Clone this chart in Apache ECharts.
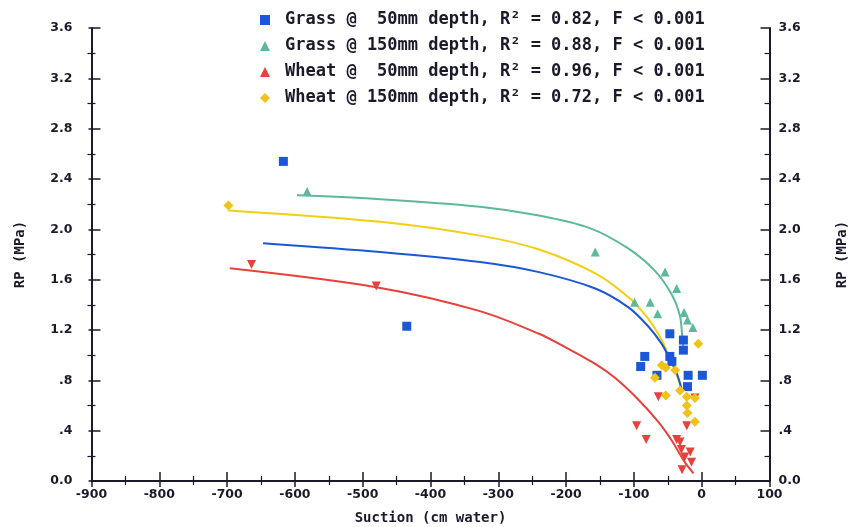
<!DOCTYPE html>
<html>
<head>
<meta charset="utf-8">
<script src="https://cdn.jsdelivr.net/npm/echarts@6/dist/echarts.min.js"></script>
<style>html,body{margin:0;padding:0;background:#fff;}#c{width:851px;height:527px;}</style>
</head>
<body>
<div id="c"></div>
<script>
// ---- data ----
var legendNames = [
  'Grass @  50mm depth, R\u00B2 = 0.82, F < 0.001',
  'Grass @ 150mm depth, R\u00B2 = 0.88, F < 0.001',
  'Wheat @  50mm depth, R\u00B2 = 0.96, F < 0.001',
  'Wheat @ 150mm depth, R\u00B2 = 0.72, F < 0.001'
];
var xTickLabels = ['-900','-800','-700','-600','-500','-400','-300','-200','-100','0','100'];
var yTickLabels = ['0.0','.4','.8','1.2','1.6','2.0','2.4','2.8','3.2','3.6'];

var grass50X = [-617, -435, -47, -27, -27, -84, -90, -47, -44, -66, -20, 1, -21];
var grass50Y = [2.54, 1.23, 1.17, 1.12, 1.04, 0.99, 0.91, 0.99, 0.95, 0.84, 0.84, 0.84, 0.75];

var grass150X = [-582, -157, -54, -37, -99, -76, -65, -26, -21, -13];
var grass150Y = [2.30, 1.82, 1.66, 1.53, 1.42, 1.42, 1.33, 1.34, 1.28, 1.22];

var wheat50X = [-664, -480, -64, -10, -96, -82, -22, -37, -32, -30, -17, -25, -15, -29];
var wheat50Y = [1.72, 1.55, 0.67, 0.66, 0.44, 0.33, 0.44, 0.33, 0.31, 0.25, 0.23, 0.19, 0.15, 0.09];

var wheat150X = [-698, -5, -59, -53, -69, -39, -53, -32, -22, -10, -22, -21, -10];
var wheat150Y = [2.19, 1.09, 0.92, 0.90, 0.82, 0.88, 0.68, 0.72, 0.67, 0.66, 0.60, 0.54, 0.47];

// fitted curves
var grass50FitX = [-647, -474, -327, -240, -157, -108, -79, -59, -47, -37, -29];
var grass50FitY = [1.89, 1.82, 1.74, 1.66, 1.53, 1.38, 1.23, 1.09, 0.97, 0.86, 0.72];

var grass150FitX = [-597, -474, -327, -240, -165, -109, -69, -44, -32, -29, -27];
var grass150FitY = [2.27, 2.24, 2.18, 2.11, 2.01, 1.85, 1.67, 1.48, 1.31, 1.17, 1.05];

var wheat50FitX = [-696, -480, -327, -240, -200, -157, -128, -94, -64, -44, -25, -12];
var wheat50FitY = [1.69, 1.54, 1.35, 1.17, 1.06, 0.93, 0.82, 0.65, 0.47, 0.32, 0.15, 0.06];

var wheat150FitX = [-698, -474, -327, -240, -157, -108, -79, -59, -49, -38, -29];
var wheat150FitY = [2.15, 2.06, 1.95, 1.84, 1.65, 1.46, 1.29, 1.12, 1.00, 0.86, 0.72];

// ---- build ----
function pairs(xs, ys){ var o=[]; for(var i=0;i<xs.length;i++) o.push([xs[i], ys[i]]); return o; }

var BLUE = '#1b57d8', GREEN = '#5db89c', RED = '#e8403a', YELLOW = '#f3cf12', YDIA = '#f0c21a';
var MONO = '"DejaVu Sans Mono", "Liberation Mono", monospace';
var SANS = '"DejaVu Sans", "Liberation Sans", sans-serif';
var INK = '#1a1a2a';

var chart = echarts.init(document.getElementById('c'), null, {renderer:'canvas'});

function yFmt(v){ var i = Math.round(v/0.4); return yTickLabels[i] !== undefined ? yTickLabels[i] : ''; }
function xFmt(v){ var i = Math.round((v+900)/100); return xTickLabels[i] !== undefined ? xTickLabels[i] : ''; }

var axisLineStyle = {color: INK, width: 2};

function fitSeries(xs, ys, color){
  return {type:'line', data: pairs(xs, ys), smooth: 0.3, showSymbol:false, symbol:'none',
    lineStyle:{color: color, width: 2}, z: 2, silent: true, xAxisIndex:0, yAxisIndex:0};
}

var option = {
  backgroundColor: '#fff',
  animation: false,
  grid: {left: 91.5, right: 81.5, top: 28, bottom: 46, containLabel: false, outerBoundsMode: 'none'},
  legend: {
    data: legendNames,
    orient: 'vertical',
    left: 255, top: 6,
    itemWidth: 10, itemHeight: 10, itemGap: 8,
    textStyle: {fontFamily: MONO, fontSize: 17, fontWeight: 'bold', color: INK, lineHeight: 18, padding: [0, 0, 0, 10]},
    selectedMode: false
  },
  xAxis: [
    {type:'value', min:-900, max:100, interval:100, position:'bottom',
     name:'Suction (cm water)', nameLocation:'middle', nameGap: 30,
     nameTextStyle:{fontFamily: MONO, fontSize: 14, fontWeight:'bold', color: INK},
     axisLine:{show:true, onZero:false, lineStyle: axisLineStyle},
     axisTick:{show:true, inside:true, length:9, lineStyle:{color:INK, width:1.5}},
     minorTick:{show:true, splitNumber:2, length:5, lineStyle:{color:INK, width:1.2}},
     axisLabel:{formatter:xFmt, fontFamily: SANS, fontSize: 12.5, fontWeight:'bold', color: INK, margin: 7},
     splitLine:{show:false}},
    {type:'value', min:-900, max:100, interval:100, position:'bottom',
     axisLine:{show:false, onZero:false},
     axisTick:{show:true, inside:false, length:6, lineStyle:{color:INK, width:1.5}},
     minorTick:{show:true, splitNumber:2, length:4, lineStyle:{color:INK, width:1.2}},
     axisLabel:{show:false}, splitLine:{show:false}}
  ],
  yAxis: [
    {type:'value', min:0, max:3.6, interval:0.4, position:'left',
     name:'RP (MPa)', nameLocation:'middle', nameGap: 64, nameRotate: 90,
     nameTextStyle:{fontFamily: MONO, fontSize: 14, fontWeight:'bold', color: INK},
     axisLine:{show:true, onZero:false, lineStyle: axisLineStyle},
     axisTick:{show:true, inside:true, length:9, lineStyle:{color:INK, width:1.5}},
     minorTick:{show:true, splitNumber:2, length:4, lineStyle:{color:INK, width:1.2}},
     axisLabel:{formatter:yFmt, fontFamily: SANS, fontSize: 12.5, fontWeight:'bold', color: INK, margin: 19},
     splitLine:{show:false}},
    {type:'value', min:0, max:3.6, interval:0.4, position:'right',
     name:'RP (MPa)', nameLocation:'middle', nameGap: 66, nameRotate: 90,
     nameTextStyle:{fontFamily: MONO, fontSize: 14, fontWeight:'bold', color: INK},
     axisLine:{show:true, onZero:false, lineStyle: axisLineStyle},
     axisTick:{show:true, inside:true, length:9, lineStyle:{color:INK, width:1.5}},
     minorTick:{show:true, splitNumber:2, length:5, lineStyle:{color:INK, width:1.2}},
     axisLabel:{formatter:yFmt, fontFamily: SANS, fontSize: 12.5, fontWeight:'bold', color: INK, margin: 9},
     splitLine:{show:false}},
    {type:'value', min:0, max:3.6, interval:0.4, position:'left',
     axisLine:{show:false, onZero:false},
     axisTick:{show:true, inside:false, length:3, lineStyle:{color:INK, width:1.5}},
     minorTick:{show:true, splitNumber:2, length:4, lineStyle:{color:INK, width:1.2}},
     axisLabel:{show:false}, splitLine:{show:false}}
  ],
  series: [
    fitSeries(grass150FitX, grass150FitY, GREEN),
    fitSeries(wheat150FitX, wheat150FitY, YELLOW),
    fitSeries(grass50FitX, grass50FitY, BLUE),
    fitSeries(wheat50FitX, wheat50FitY, RED),
    {name: legendNames[0], type:'scatter', data: pairs(grass50X, grass50Y), symbol:'rect', symbolSize: 9,
     itemStyle:{color: BLUE, opacity: 1}, z: 5},
    {name: legendNames[1], type:'scatter', data: pairs(grass150X, grass150Y), symbol:'triangle', symbolSize: [9, 9],
     itemStyle:{color: GREEN, opacity: 1}, z: 5},
    {name: legendNames[2], type:'scatter', data: pairs(wheat50X, wheat50Y), symbol:'triangle', symbolRotate: 180, symbolSize: [9, 9],
     itemStyle:{color: RED, opacity: 1}, z: 5},
    {name: legendNames[3], type:'scatter', data: pairs(wheat150X, wheat150Y), symbol:'diamond', symbolSize: [10, 10],
     itemStyle:{color: YDIA, opacity: 1}, z: 5}
  ]
};
chart.setOption(option);
</script>
</body>
</html>
